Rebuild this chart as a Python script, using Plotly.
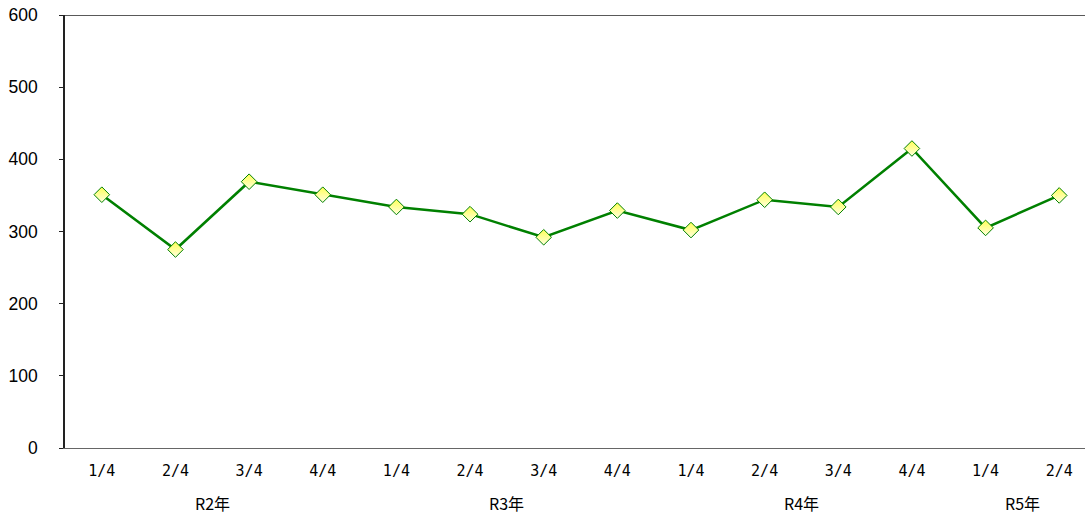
import plotly.graph_objects as go

quarters = ["1/4", "2/4", "3/4", "4/4", "1/4", "2/4", "3/4", "4/4",
            "1/4", "2/4", "3/4", "4/4", "1/4", "2/4"]
values = [351, 275, 369, 351, 334, 324, 292, 329, 302, 344, 334, 415, 305, 350]
years = ["R2年", "R3年", "R4年", "R5年"]
year_centers = [1.5, 5.5, 9.5, 12.5]
y_ticks = [0, 100, 200, 300, 400, 500, 600]

x = list(range(len(values)))

fig = go.Figure()
fig.add_trace(go.Scatter(
    x=x, y=values, mode="lines+markers",
    line=dict(color="#008000", width=2.5),
    marker=dict(symbol="diamond", size=12, color="#ffff55",
                gradient=dict(type="vertical", color="#ffffe0"),
                line=dict(color="#008000", width=1)),
    showlegend=False, hoverinfo="x+y",
))

for yr, c in zip(years, year_centers):
    fig.add_annotation(x=c, y=-0.127, xref="x", yref="paper", text=yr,
                       showarrow=False, xanchor="center", yanchor="middle",
                       font=dict(family="Noto Sans CJK JP", size=16, color="#000"))

fig.add_shape(type="line", xref="paper", yref="y", x0=0, x1=1, y0=600, y1=600,
              line=dict(color="#222", width=1.5))

fig.update_layout(
    width=1087, height=515,
    margin=dict(l=65, r=2, t=15, b=67),
    paper_bgcolor="white", plot_bgcolor="white",
    xaxis=dict(range=[-0.5, 13.35], tickvals=x, ticktext=quarters,
               showgrid=False, zeroline=False, showline=True,
               linecolor="#666", linewidth=1, ticks="",
               ticklabelstandoff=9,
               tickfont=dict(family="DejaVu Sans Mono", size=15, color="#000")),
    yaxis=dict(range=[0, 600], tickvals=y_ticks, showgrid=False, zeroline=False,
               showline=True, linecolor="#222", linewidth=1.5,
               ticks="outside", ticklen=4, tickcolor="#222",
               ticklabelstandoff=18,
               tickfont=dict(family="Liberation Sans", size=17.5, color="#000")),
)

fig.write_html("out.html", config={"displayModeBar": False},
               post_script="document.body.style.margin='0';document.body.style.overflow='hidden';")
